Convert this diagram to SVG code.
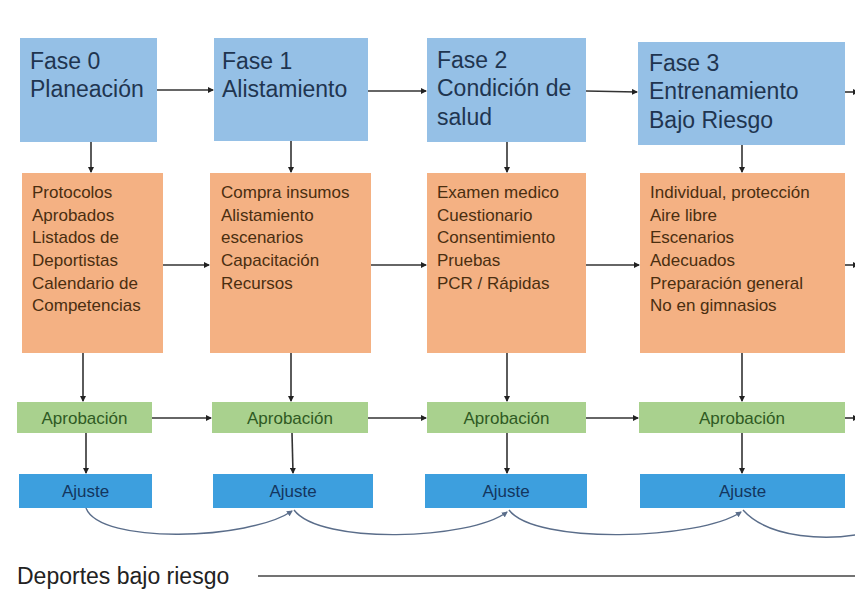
<svg xmlns="http://www.w3.org/2000/svg" width="855" height="592" viewBox="0 0 855 592">
<style>
.fase{fill:#95c0e6}
.act{fill:#f4b183}
.apr{fill:#a9d18e}
.aju{fill:#3d9fde}
.tf{font-family:"Liberation Sans",Arial,sans-serif;font-size:23px;fill:#1f3550}
.ta{font-family:"Liberation Sans",Arial,sans-serif;font-size:17px;fill:#4a2e10}
.tg{font-family:"Liberation Sans",Arial,sans-serif;font-size:17px;fill:#2f5a23;text-anchor:middle}
.tj{font-family:"Liberation Sans",Arial,sans-serif;font-size:17px;fill:#14365e;text-anchor:middle}
.c{stroke:#333;stroke-width:1.6;fill:none;marker-end:url(#ah)}
.cv{stroke:#5a6d8a;stroke-width:1.4;fill:none;marker-end:url(#ah2)}
</style>
<defs>
<marker id="ah" markerWidth="6" markerHeight="6" refX="5" refY="3" orient="auto" markerUnits="userSpaceOnUse"><path d="M0,0 L6,3 L0,6 Z" fill="#222"/></marker>
<marker id="ah2" markerWidth="6" markerHeight="6" refX="5" refY="3" orient="auto" markerUnits="userSpaceOnUse"><path d="M0,0 L6,3 L0,6 Z" fill="#5a6d8a"/></marker>
</defs>
<rect width="855" height="592" fill="#ffffff"/>

<g id="connectors">
<line class="c" x1="157" y1="90" x2="213" y2="90"/>
<line class="c" x1="368" y1="91" x2="426" y2="91"/>
<line class="c" x1="586" y1="91" x2="637" y2="92"/>
<line class="c" x1="845" y1="92" x2="858" y2="92"/>
<line class="c" x1="91" y1="142" x2="91" y2="172"/>
<line class="c" x1="291" y1="141" x2="291" y2="172"/>
<line class="c" x1="507" y1="142" x2="507" y2="172"/>
<line class="c" x1="742" y1="145" x2="742" y2="172"/>
<line class="c" x1="163" y1="265" x2="209" y2="265"/>
<line class="c" x1="371" y1="265" x2="426" y2="265"/>
<line class="c" x1="586" y1="265" x2="639" y2="265"/>
<line class="c" x1="845" y1="265" x2="858" y2="265"/>
<line class="c" x1="83" y1="353" x2="83" y2="401"/>
<line class="c" x1="291" y1="353" x2="291" y2="401"/>
<line class="c" x1="507" y1="353" x2="507" y2="401"/>
<line class="c" x1="742" y1="353" x2="742" y2="401"/>
<line class="c" x1="152" y1="418" x2="211" y2="418"/>
<line class="c" x1="368" y1="418" x2="426" y2="418"/>
<line class="c" x1="586" y1="418" x2="638" y2="418"/>
<line class="c" x1="845" y1="418" x2="858" y2="418"/>
<line class="c" x1="86" y1="433" x2="86" y2="473"/>
<line class="c" x1="292" y1="433" x2="293" y2="473"/>
<line class="c" x1="507" y1="433" x2="507" y2="473"/>
<line class="c" x1="742" y1="433" x2="742" y2="473"/>
<path class="cv" d="M86,508 C100,545 250,540 292,511"/>
<path class="cv" d="M294,510 C320,545 470,540 507,512"/>
<path class="cv" d="M509,510 C535,545 700,540 741,512"/>
<path class="cv" d="M743,510 C770,540 830,540 860,534" style="marker-end:none"/>
<line x1="258" y1="576" x2="855" y2="576" stroke="#444" stroke-width="1.3"/>
</g>

<g id="fase0"><rect class="fase" x="20" y="38" width="137" height="104"/><text class="tf" x="30" y="69">Fase 0</text><text class="tf" x="30" y="97">Planeación</text></g>
<g id="fase1"><rect class="fase" x="214" y="38" width="154" height="103"/><text class="tf" x="222" y="69">Fase 1</text><text class="tf" x="222" y="97">Alistamiento</text></g>
<g id="fase2"><rect class="fase" x="427" y="38" width="159" height="104"/><text class="tf" x="437" y="68">Fase 2</text><text class="tf" x="437" y="96">Condición de</text><text class="tf" x="437" y="125">salud</text></g>
<g id="fase3"><rect class="fase" x="638" y="42" width="207" height="103"/><text class="tf" x="649" y="71">Fase 3</text><text class="tf" x="649" y="99">Entrenamiento</text><text class="tf" x="649" y="128">Bajo Riesgo</text></g>

<g id="act0"><rect class="act" x="22" y="173" width="141" height="180"/>
<text class="ta" x="32" y="198">Protocolos</text><text class="ta" x="32" y="221">Aprobados</text><text class="ta" x="32" y="243">Listados de</text><text class="ta" x="32" y="266">Deportistas</text><text class="ta" x="32" y="289">Calendario de</text><text class="ta" x="32" y="311">Competencias</text></g>
<g id="act1"><rect class="act" x="210" y="173" width="161" height="180"/>
<text class="ta" x="221" y="198">Compra insumos</text><text class="ta" x="221" y="221">Alistamiento</text><text class="ta" x="221" y="243">escenarios</text><text class="ta" x="221" y="266">Capacitación</text><text class="ta" x="221" y="289">Recursos</text></g>
<g id="act2"><rect class="act" x="427" y="173" width="159" height="180"/>
<text class="ta" x="437" y="198">Examen medico</text><text class="ta" x="437" y="221">Cuestionario</text><text class="ta" x="437" y="243">Consentimiento</text><text class="ta" x="437" y="266">Pruebas</text><text class="ta" x="437" y="289">PCR / Rápidas</text></g>
<g id="act3"><rect class="act" x="640" y="173" width="205" height="180"/>
<text class="ta" x="650" y="198">Individual, protección</text><text class="ta" x="650" y="221">Aire libre</text><text class="ta" x="650" y="243">Escenarios</text><text class="ta" x="650" y="266">Adecuados</text><text class="ta" x="650" y="289">Preparación general</text><text class="ta" x="650" y="311">No en gimnasios</text></g>

<g id="apr0"><rect class="apr" x="17" y="402" width="135" height="31"/><text class="tg" x="84.5" y="424">Aprobación</text></g>
<g id="apr1"><rect class="apr" x="212" y="402" width="156" height="31"/><text class="tg" x="290" y="424">Aprobación</text></g>
<g id="apr2"><rect class="apr" x="427" y="402" width="159" height="31"/><text class="tg" x="506.5" y="424">Aprobación</text></g>
<g id="apr3"><rect class="apr" x="639" y="402" width="206" height="31"/><text class="tg" x="742" y="424">Aprobación</text></g>

<g id="aju0"><rect class="aju" x="19" y="474" width="133" height="34"/><text class="tj" x="85.5" y="497">Ajuste</text></g>
<g id="aju1"><rect class="aju" x="213" y="474" width="160" height="34"/><text class="tj" x="293" y="497">Ajuste</text></g>
<g id="aju2"><rect class="aju" x="425" y="474" width="162" height="34"/><text class="tj" x="506" y="497">Ajuste</text></g>
<g id="aju3"><rect class="aju" x="640" y="474" width="205" height="34"/><text class="tj" x="742.5" y="497">Ajuste</text></g>

<g id="leyenda"><text x="17" y="584" font-family="Liberation Sans, Arial, sans-serif" font-size="23" fill="#222">Deportes bajo riesgo</text></g>
</svg>
